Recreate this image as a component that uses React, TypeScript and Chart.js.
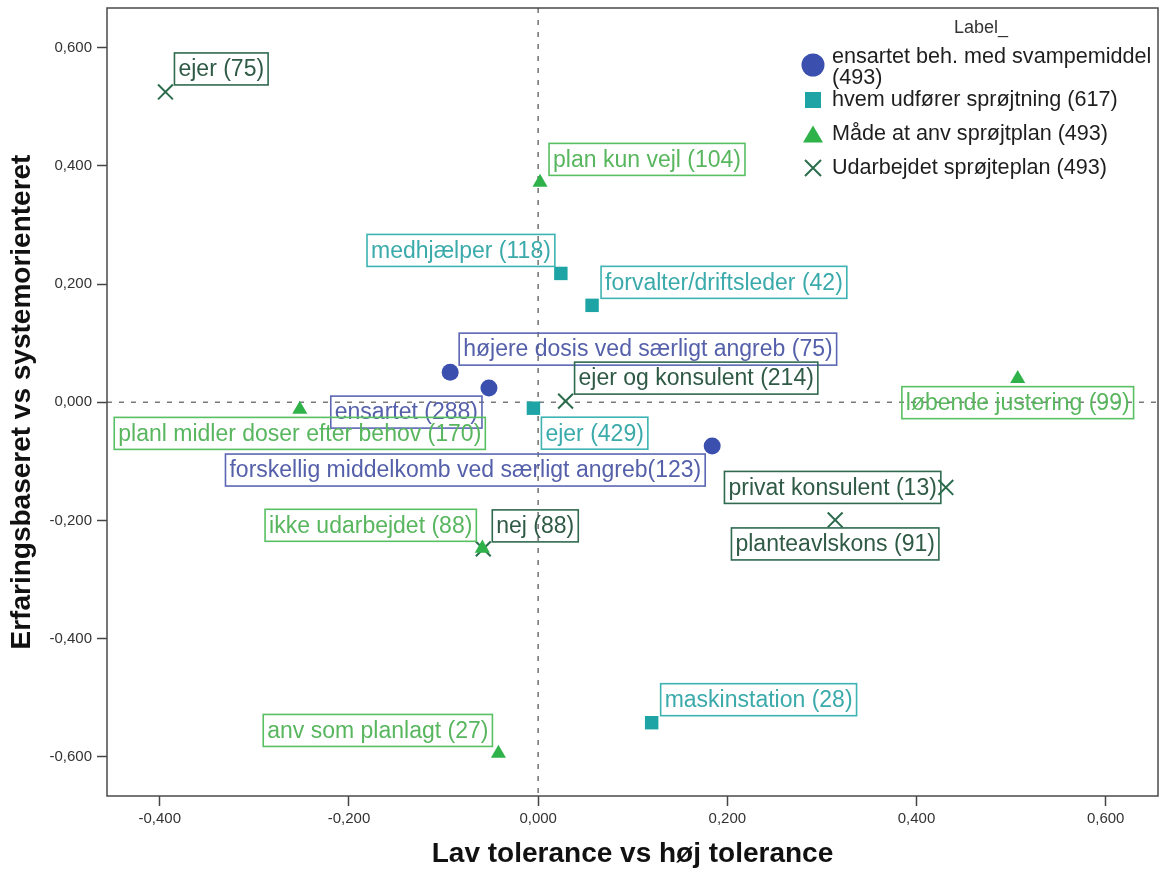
import React, { useEffect, useRef } from 'react';
import { Chart, registerables } from 'chart.js';

Chart.register(...registerables);

const FONT = '"Liberation Sans", Arial, sans-serif';

// ---- Data ----
const SERIES_NAMES = [
  'ensartet beh. med svampemiddel (493)',
  'hvem udfører sprøjtning (617)',
  'Måde at anv sprøjtplan (493)',
  'Udarbejdet sprøjteplan (493)',
];

const ENSARTET_LABELS = ['højere dosis ved særligt angreb (75)', 'ensartet (288)', 'forskellig middelkomb ved særligt angreb(123)'];
const ENSARTET_X = [-0.093, -0.052, 0.184];
const ENSARTET_Y = [0.051, 0.024, -0.074];

const HVEM_LABELS = ['medhjælper (118)', 'forvalter/driftsleder (42)', 'ejer (429)', 'maskinstation (28)'];
const HVEM_X = [0.024, 0.057, -0.005, 0.120];
const HVEM_Y = [0.218, 0.164, -0.010, -0.542];

const MAADE_LABELS = ['plan kun vejl (104)', 'planl midler doser efter behov (170)', 'løbende justering (99)', 'ikke udarbejdet (88)', 'anv som planlagt (27)'];
const MAADE_X = [0.002, -0.252, 0.507, -0.059, -0.042];
const MAADE_Y = [0.372, -0.012, 0.040, -0.247, -0.594];

const UDARB_LABELS = ['ejer (75)', 'ejer og konsulent (214)', 'privat konsulent (13)', 'planteavlskons (91)', 'nej (88)'];
const UDARB_X = [-0.394, 0.029, 0.431, 0.314, -0.058];
const UDARB_Y = [0.525, 0.002, -0.144, -0.199, -0.248];

const X_TICKS = [-0.4, -0.2, 0, 0.2, 0.4, 0.6];
const Y_TICKS = [-0.6, -0.4, -0.2, 0, 0.2, 0.4, 0.6];

const X_TITLE = 'Lav tolerance vs høj tolerance';
const Y_TITLE = 'Erfaringsbaseret vs systemorienteret';
const LEGEND_TITLE = 'Label_';

// ---- Layout (label placement relative to its point) ----
const ENSARTET_PLACE = ['ne', 'sw', 'sw'];
const HVEM_PLACE = ['nw', 'ne', 'se', 'ne'];
const MAADE_PLACE = ['ne', 's', 's', 'nw', 'nw'];
const UDARB_PLACE = ['ne', 'ne', 'w', 's', 'ne'];

const X_MIN = -0.4558;
const X_MAX = 0.6553;
const Y_MIN = -0.666;
const Y_MAX = 0.667;

// ---- Styles ----
const SERIES_STYLE = [
  { point: 'circle', radius: 8.5, color: '#3b4fae', box: '#5b67b3', text: '#5560ab', border: 0 },
  { point: 'rect', radius: 9.5, color: '#1ea4a4', box: '#3db3b3', text: '#3aaaab', border: 0 },
  { point: 'triangle', radius: 8.7, color: '#2fb24a', box: '#58c062', text: '#58b65e', border: 0 },
  { point: 'crossRot', radius: 10.5, color: '#2b6c4d', box: '#2f6a4f', text: '#2f5a45', border: 2 },
];

const fmt = (v: number | string) => {
  let n = Number(v);
  if (Math.abs(n) < 1e-9) n = 0;
  return n.toFixed(3).replace('.', ',');
};

function drawMarker(ctx: CanvasRenderingContext2D, kind: string, x: number, y: number, size: number, color: string) {
  ctx.save();
  ctx.fillStyle = color;
  ctx.strokeStyle = color;
  ctx.beginPath();
  if (kind === 'circle') {
    ctx.arc(x, y, size / 2, 0, Math.PI * 2);
    ctx.fill();
  } else if (kind === 'rect') {
    ctx.fillRect(x - size / 2, y - size / 2, size, size);
  } else if (kind === 'triangle') {
    const h = size * 0.85;
    ctx.moveTo(x, y - h / 2);
    ctx.lineTo(x + size / 2, y + h / 2);
    ctx.lineTo(x - size / 2, y + h / 2);
    ctx.closePath();
    ctx.fill();
  } else {
    ctx.lineWidth = 2;
    const s = size / 2;
    ctx.moveTo(x - s, y - s);
    ctx.lineTo(x + s, y + s);
    ctx.moveTo(x + s, y - s);
    ctx.lineTo(x - s, y + s);
    ctx.stroke();
  }
  ctx.restore();
}

export default function App() {
  const ref = useRef<HTMLCanvasElement>(null);

  useEffect(() => {
    document.body.style.margin = '0';
    const canvas = ref.current;
    if (!canvas) return;

    const series = [
      { x: ENSARTET_X, y: ENSARTET_Y, labels: ENSARTET_LABELS, place: ENSARTET_PLACE },
      { x: HVEM_X, y: HVEM_Y, labels: HVEM_LABELS, place: HVEM_PLACE },
      { x: MAADE_X, y: MAADE_Y, labels: MAADE_LABELS, place: MAADE_PLACE },
      { x: UDARB_X, y: UDARB_Y, labels: UDARB_LABELS, place: UDARB_PLACE },
    ];

    const refLines = {
      id: 'refLines',
      beforeDatasetsDraw(chart: any) {
        const { ctx, chartArea, scales } = chart;
        const x0 = scales.x.getPixelForValue(0);
        const y0 = scales.y.getPixelForValue(0);
        ctx.save();
        ctx.strokeStyle = '#7a7a7a';
        ctx.lineWidth = 1.6;
        ctx.setLineDash([5, 7]);
        ctx.beginPath();
        ctx.moveTo(x0, chartArea.top);
        ctx.lineTo(x0, chartArea.bottom);
        ctx.moveTo(chartArea.left, y0);
        ctx.lineTo(chartArea.right, y0);
        ctx.stroke();
        ctx.restore();
      },
      afterDraw(chart: any) {
        const { ctx, chartArea } = chart;
        ctx.save();
        ctx.strokeStyle = '#4a4a4a';
        ctx.lineWidth = 1.5;
        ctx.strokeRect(chartArea.left, chartArea.top, chartArea.right - chartArea.left, chartArea.bottom - chartArea.top);
        ctx.restore();
      },
    };

    const pointLabels = {
      id: 'pointLabels',
      afterDatasetsDraw(chart: any) {
        const { ctx, scales } = chart;
        ctx.save();
        ctx.font = `23px ${FONT}`;
        ctx.textBaseline = 'middle';
        ctx.textAlign = 'left';
        series.forEach((s, si) => {
          const st = SERIES_STYLE[si];
          s.labels.forEach((text, i) => {
            const px = scales.x.getPixelForValue(s.x[i]);
            const py = scales.y.getPixelForValue(s.y[i]);
            const w = ctx.measureText(text).width + 8;
            const h = 32;
            let bx = px + 9;
            let by = py - 7 - h;
            switch (s.place[i]) {
              case 'ne': bx = px + 9; by = py - 7 - h; break;
              case 'nw': bx = px - 6 - w; by = py - 7 - h; break;
              case 'sw': bx = px - 7 - w; by = py + 8; break;
              case 'se': bx = px + 8; by = py + 9; break;
              case 's': bx = px - w / 2; by = py + 8; break;
              case 'w': bx = px - 5 - w; by = py - h / 2; break;
            }
            ctx.strokeStyle = st.box;
            ctx.lineWidth = 1.6;
            ctx.strokeRect(bx, by, w, h);
            ctx.fillStyle = st.text;
            ctx.fillText(text, bx + 4, by + h / 2 + 1);
          });
        });
        ctx.restore();
      },
    };

    const legendPlugin = {
      id: 'customLegend',
      afterDraw(chart: any) {
        const { ctx } = chart;
        ctx.save();
        ctx.fillStyle = '#333';
        ctx.font = `18px ${FONT}`;
        ctx.textAlign = 'center';
        ctx.textBaseline = 'middle';
        ctx.fillText(LEGEND_TITLE, 981, 28);

        ctx.font = `21.6px ${FONT}`;
        ctx.textAlign = 'left';
        ctx.fillStyle = '#1e1e1e';
        const textX = 832;
        const maxW = 1159 - textX - 2;
        const markerSizes = [23, 16, 20, 16];
        let y = 57;
        SERIES_NAMES.forEach((name, i) => {
          const words = name.split(' ');
          const lines: string[] = [];
          let cur = '';
          words.forEach((wd) => {
            const t = cur ? cur + ' ' + wd : wd;
            if (ctx.measureText(t).width > maxW && cur) {
              lines.push(cur);
              cur = wd;
            } else cur = t;
          });
          lines.push(cur);
          lines.forEach((ln, li) => ctx.fillText(ln, textX, y + li * 21));
          const my = lines.length > 1 ? y + 8 : y;
          drawMarker(ctx, SERIES_STYLE[i].point, 813, my, markerSizes[i], SERIES_STYLE[i].color);
          ctx.fillStyle = '#1e1e1e';
          y += (lines.length - 1) * 21 + (i === 0 ? 22 : 34);
        });
        ctx.restore();
      },
    };

    const chart = new Chart(canvas, {
      type: 'scatter',
      data: {
        datasets: series.map((s, si) => ({
          label: SERIES_NAMES[si],
          data: s.x.map((x, i) => ({ x, y: s.y[i] })),
          pointStyle: SERIES_STYLE[si].point as any,
          pointRadius: SERIES_STYLE[si].radius,
          pointHoverRadius: SERIES_STYLE[si].radius,
          pointBackgroundColor: SERIES_STYLE[si].color,
          pointBorderColor: SERIES_STYLE[si].color,
          pointBorderWidth: SERIES_STYLE[si].border,
        })),
      },
      options: {
        responsive: false,
        animation: false,
        events: [],
        layout: { autoPadding: false, padding: { top: 8, right: 1, left: 0, bottom: 0 } },
        plugins: { legend: { display: false }, tooltip: { enabled: false } },
        scales: {
          x: {
            type: 'linear',
            min: X_MIN,
            max: X_MAX,
            afterBuildTicks: (s: any) => { s.ticks = X_TICKS.map((v) => ({ value: v })); },
            afterFit: (s: any) => { s.height = 74; s.paddingLeft = 0; s.paddingRight = 0; },
            ticks: { callback: (v: any) => fmt(v), font: { family: FONT, size: 15 }, color: '#333', padding: 4, maxRotation: 0, autoSkip: false },
            grid: { display: true, drawOnChartArea: false, drawTicks: true, tickLength: 10, tickWidth: 1.5, tickColor: '#444' },
            border: { display: false },
            title: { display: true, text: X_TITLE, color: '#111', font: { family: FONT, size: 28, weight: 'bold', lineHeight: 1.1 }, padding: { top: 0, bottom: 0 } },
          },
          y: {
            type: 'linear',
            min: Y_MIN,
            max: Y_MAX,
            afterBuildTicks: (s: any) => { s.ticks = Y_TICKS.map((v) => ({ value: v })); },
            afterFit: (s: any) => { s.width = 107; s.paddingTop = 0; s.paddingBottom = 0; },
            ticks: { callback: (v: any) => fmt(v), font: { family: FONT, size: 15 }, color: '#333', padding: 5, autoSkip: false },
            grid: { display: true, drawOnChartArea: false, drawTicks: true, tickLength: 10, tickWidth: 1.5, tickColor: '#444' },
            border: { display: false },
            title: { display: true, text: Y_TITLE, color: '#111', font: { family: FONT, size: 28, weight: 'bold', lineHeight: 1.1 }, padding: { top: 7, bottom: 0 } },
          },
        },
      } as any,
      plugins: [refLines, pointLabels, legendPlugin],
    });

    return () => chart.destroy();
  }, []);

  return <canvas ref={ref} width={1159} height={870} style={{ display: 'block' }} />;
}
